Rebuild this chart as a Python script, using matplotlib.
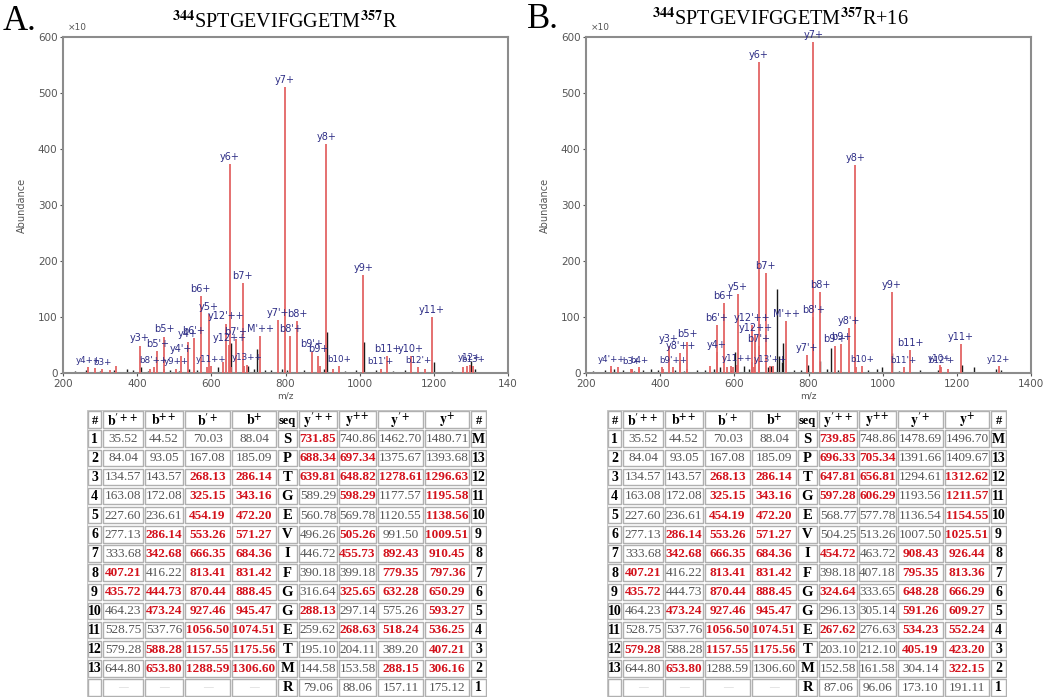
import matplotlib
matplotlib.use("Agg")
import matplotlib.pyplot as plt
from matplotlib.patches import Rectangle

plt.rcParams['mathtext.fontset'] = 'stix'

# ---------------- data ----------------
x_ticks = [200, 400, 600, 800, 1000, 1200, 1400]
x_ticklabels_a = ['200', '400', '600', '800', '1000', '1200', '140']
x_ticklabels_b = ['200', '400', '600', '800', '1000', '1200', '1400']
y_ticks = [0, 100, 200, 300, 400, 500, 600]

# Panel A matched ions (red)
a_ion_mz = [268.63, 286.14, 306.16, 343.16, 325.65, 407.21, 435.72, 444.73, 454.19, 472.20,
            473.24, 505.26, 518.24, 536.25, 553.26, 571.27, 588.28, 593.27, 598.29, 632.28,
            639.81, 648.82, 650.29, 653.80, 666.35, 684.36, 688.34, 697.34, 731.85, 779.35,
            797.36, 813.41, 831.42, 870.44, 888.45, 892.43, 910.45, 927.46, 945.47, 1009.51,
            1056.50, 1074.51, 1138.56, 1157.55, 1175.56, 1195.58, 1278.61, 1288.59, 1296.63, 1306.60]
a_ion_ab = [10, 9, 7, 12, 6, 49, 8, 10, 39, 65,
            8, 8, 30, 56, 62, 137, 10, 105, 12, 20,
            88, 50, 373, 10, 60, 160, 12, 15, 66, 95,
            511, 66, 92, 38, 30, 12, 409, 8, 12, 175,
            8, 30, 30, 10, 8, 100, 10, 12, 15, 12]
a_ion_lab = ["y4++", "", "b3+", "", "", "y3+", "", "b8'++", "b5'+", "b5+",
             "", "y9++", "y4'+", "y4+", "b6'+", "b6+", "", "y5+", "y11++", "",
             "y12'++", "y12++", "y6+", "", "b7'+", "b7+", "", "y13++", "M'++", "y7'+",
             "y7+", "b8'+", "b8+", "b9'+", "b9+", "", "y8+", "", "b10+", "y9+",
             "b11'+", "b11+", "y10+", "b12'+", "", "y11+", "", "", "y12+", "b13+"]
# Panel A unmatched peaks (black)
a_oth_mz = [232, 262, 300, 338, 372, 388, 410, 430, 488, 512, 540, 560, 618, 652, 700, 715,
            723, 745, 760, 790, 805, 850, 905, 912, 960, 990, 1011, 1044, 1090, 1121, 1200,
            1250, 1300, 1310]
a_oth_ab = [3, 6, 4, 5, 8, 5, 10, 4, 5, 4, 8, 6, 10, 54, 12, 8,
            43, 6, 5, 8, 6, 5, 8, 74, 4, 5, 55, 6, 4, 5, 20,
            4, 22, 8]

# Panel B matched ions (red)
b_ion_mz = [267.62, 268.13, 286.14, 322.15, 324.64, 325.15, 342.68, 343.16, 405.19, 407.21,
            423.20, 435.72, 454.19, 454.72, 472.20, 473.24, 534.23, 552.24, 553.26, 571.27,
            579.28, 591.26, 597.28, 606.29, 609.27, 647.81, 648.28, 653.80, 656.81, 666.29,
            666.35, 684.36, 696.33, 705.34, 739.85, 795.35, 813.36, 813.41, 831.42, 870.44,
            888.45, 908.43, 926.44, 927.46, 945.47, 1025.51, 1056.50, 1074.51, 1154.55, 1157.55,
            1175.56, 1211.57, 1312.62]
b_ion_ab = [12, 8, 10, 8, 6, 8, 8, 10, 10, 8,
            48, 10, 20, 35, 56, 8, 12, 37, 86, 125,
            10, 12, 10, 14, 141, 85, 20, 10, 68, 555,
            48, 178, 12, 12, 92, 32, 591, 100, 144, 48,
            52, 80, 371, 10, 12, 145, 10, 41, 14, 10,
            8, 51, 12]
b_ion_lab = ["y4'++", "", "", "b3+", "", "", "", "b4+", "", "",
             "y3+", "b9'++", "", "y8'++", "b5+", "", "", "y4+", "b6'+", "b6+",
             "", "", "", "y11++", "y5+", "y12'++", "", "", "y12++", "y6+",
             "b7'+", "b7+", "y13'++", "", "M'++", "y7'+", "y7+", "b8'+", "b8+", "b9'+",
             "b9+", "y8'+", "y8+", "", "b10+", "y9+", "b11'+", "b11+", "y10+", "b12'+",
             "", "y11+", "y12+"]
# Panel B unmatched peaks (black)
b_oth_mz = [220, 250, 275, 300, 330, 355, 375, 395, 440, 465, 500, 520, 545, 560, 590, 602,
            625, 640, 690, 700, 714, 720, 728, 732, 760, 780, 799, 832, 850, 862, 880, 960,
            985, 997, 1024, 1045, 1100, 1150, 1213, 1246, 1305, 1320]
b_oth_ab = [4, 6, 8, 5, 4, 6, 8, 5, 6, 4, 6, 5, 8, 10, 6, 37,
            12, 8, 10, 12, 150, 30, 20, 53, 6, 5, 15, 22, 8, 45, 6, 5,
            8, 10, 35, 4, 6, 5, 15, 10, 8, 5]

# Fragment tables
seq = ['S', 'P', 'T', 'G', 'E', 'V', 'I', 'F', 'G', 'G', 'E', 'T', 'M', 'R']
row_num_left = ['1', '2', '3', '4', '5', '6', '7', '8', '9', '10', '11', '12', '13', '']
row_num_right = ['M', '13', '12', '11', '10', '9', '8', '7', '6', '5', '4', '3', '2', '1']
headers = ['#', r"$\mathbf{b^{\prime++}}$", r"$\mathbf{b^{++}}$", r"$\mathbf{b^{\prime+}}$",
           r"$\mathbf{b^{+}}$", 'seq', r"$\mathbf{y^{\prime++}}$", r"$\mathbf{y^{++}}$",
           r"$\mathbf{y^{\prime+}}$", r"$\mathbf{y^{+}}$", '#']

b_cols = [  # b'++, b++, b'+, b+  (same for A and B)
    ['35.52', '44.52', '70.03', '88.04'],
    ['84.04', '93.05', '167.08', '185.09'],
    ['134.57', '143.57', '268.13', '286.14'],
    ['163.08', '172.08', '325.15', '343.16'],
    ['227.60', '236.61', '454.19', '472.20'],
    ['277.13', '286.14', '553.26', '571.27'],
    ['333.68', '342.68', '666.35', '684.36'],
    ['407.21', '416.22', '813.41', '831.42'],
    ['435.72', '444.73', '870.44', '888.45'],
    ['464.23', '473.24', '927.46', '945.47'],
    ['528.75', '537.76', '1056.50', '1074.51'],
    ['579.28', '588.28', '1157.55', '1175.56'],
    ['644.80', '653.80', '1288.59', '1306.60'],
    ['\u2014', '\u2014', '\u2014', '\u2014'],
]
a_y_cols = [
    ['731.85', '740.86', '1462.70', '1480.71'],
    ['688.34', '697.34', '1375.67', '1393.68'],
    ['639.81', '648.82', '1278.61', '1296.63'],
    ['589.29', '598.29', '1177.57', '1195.58'],
    ['560.78', '569.78', '1120.55', '1138.56'],
    ['496.26', '505.26', '991.50', '1009.51'],
    ['446.72', '455.73', '892.43', '910.45'],
    ['390.18', '399.18', '779.35', '797.36'],
    ['316.64', '325.65', '632.28', '650.29'],
    ['288.13', '297.14', '575.26', '593.27'],
    ['259.62', '268.63', '518.24', '536.25'],
    ['195.10', '204.11', '389.20', '407.21'],
    ['144.58', '153.58', '288.15', '306.16'],
    ['79.06', '88.06', '157.11', '175.12'],
]
b_y_cols = [
    ['739.85', '748.86', '1478.69', '1496.70'],
    ['696.33', '705.34', '1391.66', '1409.67'],
    ['647.81', '656.81', '1294.61', '1312.62'],
    ['597.28', '606.29', '1193.56', '1211.57'],
    ['568.77', '577.78', '1136.54', '1154.55'],
    ['504.25', '513.26', '1007.50', '1025.51'],
    ['454.72', '463.72', '908.43', '926.44'],
    ['398.18', '407.18', '795.35', '813.36'],
    ['324.64', '333.65', '648.28', '666.29'],
    ['296.13', '305.14', '591.26', '609.27'],
    ['267.62', '276.63', '534.23', '552.24'],
    ['203.10', '212.10', '405.19', '423.20'],
    ['152.58', '161.58', '304.14', '322.15'],
    ['87.06', '96.06', '173.10', '191.11'],
]
# matched flags (1 = red bold)
a_b_hit = [[0, 0, 0, 0], [0, 0, 0, 0], [0, 0, 1, 1], [0, 0, 1, 1], [0, 0, 1, 1], [0, 1, 1, 1],
           [0, 1, 1, 1], [1, 0, 1, 1], [1, 1, 1, 1], [0, 1, 1, 1], [0, 0, 1, 1], [0, 1, 1, 1],
           [0, 1, 1, 1], [0, 0, 0, 0]]
a_y_hit = [[1, 0, 0, 0], [1, 1, 0, 0], [1, 1, 1, 1], [0, 1, 0, 1], [0, 0, 0, 1], [0, 1, 0, 1],
           [0, 1, 1, 1], [0, 0, 1, 1], [0, 1, 1, 1], [1, 0, 0, 1], [0, 1, 1, 1], [0, 0, 0, 1],
           [0, 0, 1, 1], [0, 0, 0, 0]]
b_b_hit = [[0, 0, 0, 0], [0, 0, 0, 0], [0, 0, 1, 1], [0, 0, 1, 1], [0, 0, 1, 1], [0, 1, 1, 1],
           [0, 1, 1, 1], [1, 0, 1, 1], [1, 0, 1, 1], [0, 1, 1, 1], [0, 0, 1, 1], [1, 0, 1, 1],
           [0, 1, 0, 0], [0, 0, 0, 0]]
b_y_hit = [[1, 0, 0, 0], [1, 1, 0, 0], [1, 1, 0, 1], [1, 1, 0, 1], [0, 0, 0, 1], [0, 0, 0, 1],
           [1, 0, 1, 1], [0, 0, 1, 1], [1, 0, 1, 1], [0, 0, 1, 1], [1, 0, 1, 1], [0, 0, 1, 1],
           [0, 0, 0, 1], [0, 0, 0, 0]]

col_w = [15, 42, 40, 47, 46, 21, 40, 39, 47, 46, 17]

# ---------------- drawing ----------------
W, H = 1050, 700
fig = plt.figure(figsize=(W / 100, H / 100), dpi=100)


def px_axes(x0, y0, x1, y1):
    return fig.add_axes([x0 / W, 1 - y1 / H, (x1 - x0) / W, (y1 - y0) / H])


RED_LINE = '#e36464'
LABEL_C = '#2e2e86'
GRAY = '#555555'


def draw_spectrum(ax, ion_mz, ion_ab, ion_lab, oth_mz, oth_ab, xtl):
    ax.vlines(oth_mz, 0, oth_ab, color='#1a1a1a', lw=1.0, zorder=2)
    ax.vlines(ion_mz, 0, ion_ab, color=RED_LINE, lw=1.3, zorder=3)
    for m, a, l in zip(ion_mz, ion_ab, ion_lab):
        if l:
            small = a < 25
            ax.text(m, a + 4, l, ha='center', va='bottom', fontsize=6.3 if small else 7,
                    color=LABEL_C, zorder=4, family='DejaVu Sans')
    ax.set_xlim(200, 1400)
    ax.set_ylim(0, 600)
    ax.set_xticks(x_ticks)
    ax.set_xticklabels(xtl)
    ax.set_yticks(y_ticks)
    ax.tick_params(labelsize=7.5, colors=GRAY, length=2, width=0.8, pad=2)
    for s in ax.spines.values():
        s.set_color('#8c8c8c')
        s.set_linewidth(1.5)
    ax.set_xlabel('m/z', fontsize=6.5, color=GRAY, labelpad=2)
    ax.set_ylabel('Abundance', fontsize=7, color=GRAY, labelpad=8)


def draw_table(ax, b_vals, b_hit, y_vals, y_hit):
    total = sum(col_w)
    nrows = len(seq) + 1
    ax.set_xlim(0, total)
    ax.set_ylim(nrows, 0)
    ax.axis('off')
    xs = [0]
    for w in col_w:
        xs.append(xs[-1] + w)
    ax.add_patch(Rectangle((0, 0), total, nrows, fill=False, ec='#c8c8c8', lw=1.0))
    for r in range(nrows):
        for c in range(len(col_w)):
            ax.add_patch(Rectangle((xs[c] + 1.2, r + 0.07), col_w[c] - 2.4, 0.86,
                                   fill=False, ec='#b0b0b0', lw=1.0))
    serif = 'Liberation Serif'
    # header
    for c, htxt in enumerate(headers):
        ax.text((xs[c] + xs[c + 1]) / 2, 0.55, htxt, ha='center', va='center',
                fontsize=9 if c in (0, 5, 10) else 10, fontweight='bold',
                family=serif, color='black')
    for r in range(len(seq)):
        yc = r + 1.52
        ax.text((xs[0] + xs[1]) / 2, yc, row_num_left[r], ha='center', va='center',
                fontsize=10, fontweight='bold', family=serif, color='black')
        ax.text((xs[5] + xs[6]) / 2, yc, seq[r], ha='center', va='center',
                fontsize=10.5, fontweight='bold', family=serif, color='black')
        ax.text((xs[10] + xs[11]) / 2, yc, row_num_right[r], ha='center', va='center',
                fontsize=10, fontweight='bold', family=serif, color='black')
        for k in range(4):
            c = 1 + k
            txt = b_vals[r][k]
            if txt == '\u2014':
                ax.text((xs[c] + xs[c + 1]) / 2, yc, txt, ha='center', va='center',
                        fontsize=7, family=serif, color='#d0d0d0')
                continue
            hit = b_hit[r][k]
            ax.text((xs[c] + xs[c + 1]) / 2, yc, txt, ha='center', va='center',
                    fontsize=9.5, family=serif,
                    fontweight='bold' if hit else 'normal',
                    color='#d3121c' if hit else GRAY)
        for k in range(4):
            c = 6 + k
            hit = y_hit[r][k]
            ax.text((xs[c] + xs[c + 1]) / 2, yc, y_vals[r][k], ha='center', va='center',
                    fontsize=9.5, family=serif,
                    fontweight='bold' if hit else 'normal',
                    color='#d3121c' if hit else GRAY)


ax_a = px_axes(63, 37, 508, 373)
draw_spectrum(ax_a, a_ion_mz, a_ion_ab, a_ion_lab, a_oth_mz, a_oth_ab, x_ticklabels_a)
ax_b = px_axes(586, 37, 1031, 373)
draw_spectrum(ax_b, b_ion_mz, b_ion_ab, b_ion_lab, b_oth_mz, b_oth_ab, x_ticklabels_b)

fig.text(68 / W, 1 - 27 / H, '\u00d710', fontsize=6.5, color=GRAY, va='center')
fig.text(591 / W, 1 - 27 / H, '\u00d710', fontsize=6.5, color=GRAY, va='center')

fig.text(3 / W, 1 - 22 / H, 'A.', fontsize=25, family='Liberation Serif', va='center')
fig.text(527 / W, 1 - 20 / H, 'B.', fontsize=25, family='Liberation Serif', va='center')
fig.text(285 / W, 1 - 22 / H, r"$^{\mathbf{344}}$SPTGEVIFGGETM$^{\mathbf{357}}$R",
         fontsize=14.5, family='Liberation Serif', ha='center', va='center')
fig.text(780 / W, 1 - 19 / H, r"$^{\mathbf{344}}$SPTGEVIFGGETM$^{\mathbf{357}}$R+16",
         fontsize=14.5, family='Liberation Serif', ha='center', va='center')

tab_a = px_axes(87, 410, 487, 697)
draw_table(tab_a, b_cols, a_b_hit, a_y_cols, a_y_hit)
tab_b = px_axes(607, 410, 1007, 697)
draw_table(tab_b, b_cols, b_b_hit, b_y_cols, b_y_hit)

fig.savefig('out.png', dpi=100)
